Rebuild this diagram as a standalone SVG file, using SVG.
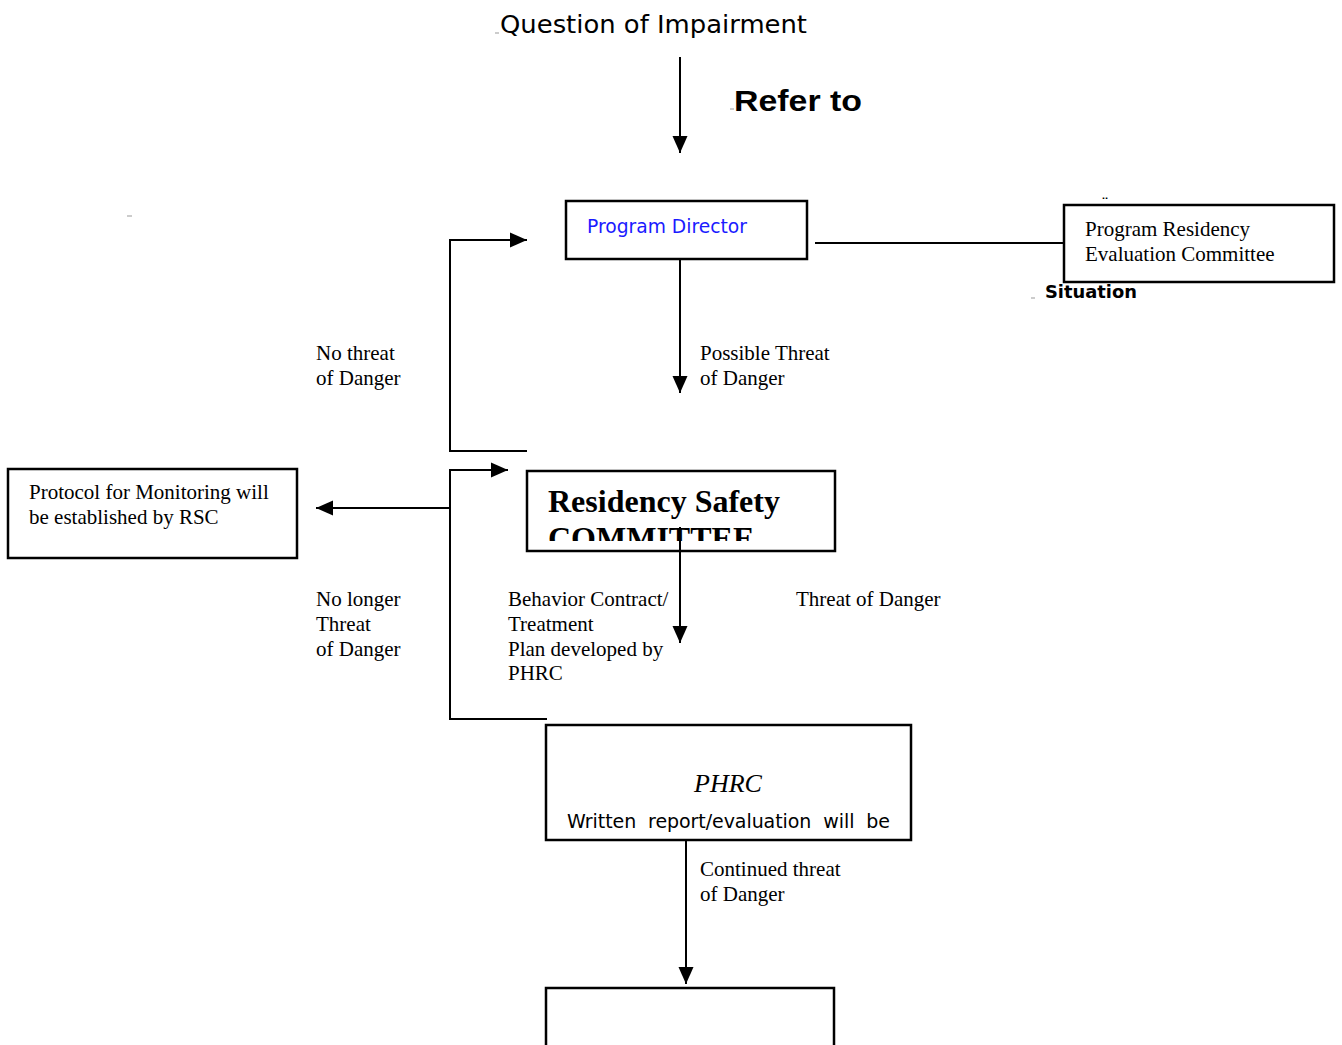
<svg xmlns="http://www.w3.org/2000/svg" width="1342" height="1045" viewBox="0 0 1342 1045">
<style>
.box{fill:#fff;stroke:#000;stroke-width:2.5}
.ln{fill:none;stroke:#000;stroke-width:2}
.tm{font-family:"Liberation Serif","Times New Roman",serif;font-size:21px;fill:#000}
.sans{font-family:"DejaVu Sans",Verdana,sans-serif;fill:#000}
.mark{stroke:#999;stroke-width:1}
</style>
<defs>
<marker id="ah" markerUnits="userSpaceOnUse" markerWidth="17" markerHeight="17" viewBox="0 0 17 17" refX="17" refY="8.5" orient="auto">
<path d="M0,1 L17,8.5 L0,16 Z" fill="#000"/>
</marker>
<clipPath id="rscclip"><rect x="527" y="471" width="308" height="70"/></clipPath>
</defs>

<rect width="1342" height="1045" fill="#fff"/>

<g id="title">
<line class="mark" x1="495" y1="33" x2="499" y2="33"/>
<text class="sans" x="500" y="33" font-size="25" textLength="307" lengthAdjust="spacingAndGlyphs">Question of Impairment</text>
</g>
<g id="refer">
<line class="mark" x1="730" y1="109" x2="734" y2="109"/>
<text x="734" y="111" font-family="'Liberation Sans',Arial,sans-serif" font-weight="bold" font-size="30" textLength="128" lengthAdjust="spacingAndGlyphs">Refer to</text>
</g>
<line class="mark" x1="127" y1="216" x2="132" y2="216"/>

<g id="connectors">
<line class="ln" x1="680" y1="57" x2="680" y2="153" marker-end="url(#ah)"/>
<line class="ln" x1="680" y1="259" x2="680" y2="393" marker-end="url(#ah)"/>
<line class="ln" x1="815" y1="243" x2="1064" y2="243"/>
<polyline class="ln" points="527,451 450,451 450,240 527,240" marker-end="url(#ah)"/>
<polyline class="ln" points="547,719 450,719 450,470 508,470" marker-end="url(#ah)"/>
<line class="ln" x1="450" y1="508" x2="316" y2="508" marker-end="url(#ah)"/>
<line class="ln" x1="680" y1="527" x2="680" y2="643" marker-end="url(#ah)"/>
<line class="ln" x1="686" y1="840" x2="686" y2="984" marker-end="url(#ah)"/>
</g>

<g id="program-director">
<rect class="box" x="566" y="201" width="241" height="58"/>
<text x="587" y="233" font-family="'DejaVu Sans',Verdana,sans-serif" font-size="19" fill="#1a1aff" textLength="160" lengthAdjust="spacingAndGlyphs">Program Director</text>
</g>

<g id="prec">
<text x="1101" y="210" class="sans" font-size="16">¨</text>
<rect class="box" x="1064" y="205" width="270" height="77"/>
<text class="tm" x="1085" y="236">Program Residency</text>
<text class="tm" x="1085" y="261">Evaluation Committee</text>
<line class="mark" x1="1031" y1="298" x2="1035" y2="298"/>
<text x="1045" y="298" font-family="'DejaVu Sans',sans-serif" font-weight="bold" font-size="18" textLength="92" lengthAdjust="spacingAndGlyphs">Situation</text>
</g>

<g id="labels">
<text class="tm" x="316" y="360">No threat</text>
<text class="tm" x="316" y="385">of Danger</text>
<text class="tm" x="700" y="360">Possible Threat</text>
<text class="tm" x="700" y="385">of Danger</text>
<text class="tm" x="316" y="606">No longer</text>
<text class="tm" x="316" y="631">Threat</text>
<text class="tm" x="316" y="656">of Danger</text>
<text class="tm" x="508" y="606">Behavior Contract/</text>
<text class="tm" x="508" y="631">Treatment</text>
<text class="tm" x="508" y="656">Plan developed by</text>
<text class="tm" x="508" y="680">PHRC</text>
<text class="tm" x="796" y="606">Threat of Danger</text>
<text class="tm" x="700" y="876">Continued threat</text>
<text class="tm" x="700" y="901">of Danger</text>
</g>

<g id="protocol">
<rect class="box" x="8" y="469" width="289" height="89"/>
<text class="tm" x="29" y="499">Protocol for Monitoring will</text>
<text class="tm" x="29" y="524">be established by RSC</text>
</g>

<g id="rsc">
<rect class="box" x="527" y="471" width="308" height="80" fill="none"/>
<g clip-path="url(#rscclip)">
<text x="548" y="512" font-family="'Liberation Serif','Times New Roman',serif" font-weight="bold" font-size="32">Residency Safety</text>
<text x="548" y="549" font-family="'Liberation Serif','Times New Roman',serif" font-weight="bold" font-size="32">COMMITTEE</text>
</g>
<line class="ln" x1="680" y1="527" x2="680" y2="551"/>
</g>

<g id="phrc">
<rect class="box" x="546" y="725" width="365" height="115"/>
<text x="694" y="792" font-family="'Liberation Serif','Times New Roman',serif" font-style="italic" font-size="26">PHRC</text>
<text x="567" y="828" font-family="'DejaVu Sans',Verdana,sans-serif" font-size="19" textLength="323" lengthAdjust="spacing" word-spacing="6">Written report/evaluation will be</text>
</g>

<g id="final">
<rect class="box" x="546" y="988" width="288" height="60"/>
</g>
</svg>
